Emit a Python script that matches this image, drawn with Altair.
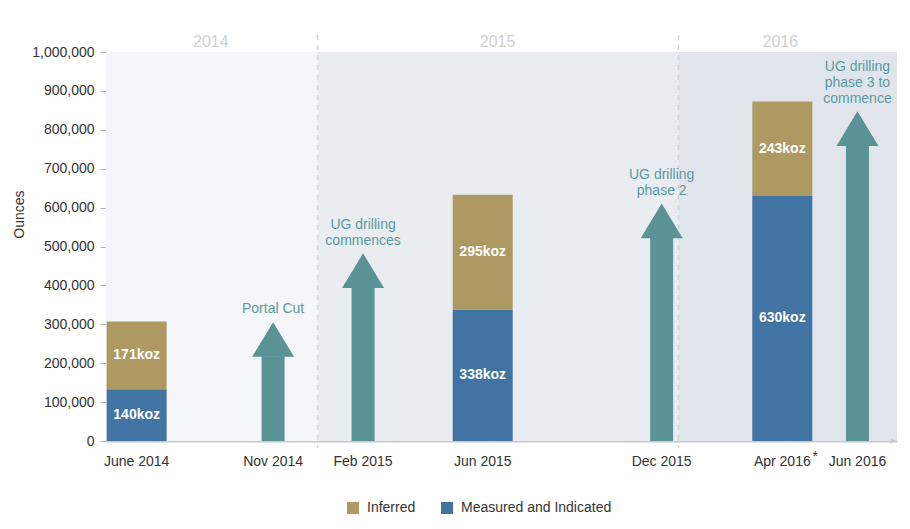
import altair as alt
import pandas as pd

# ---------------- data ----------------
bar_dates = ["2014-07-02", "2015-06-17", "2016-04-15"]
measured = [133000, 338000, 630000]
inferred = [174000, 295000, 243000]
measured_labels = ["140koz", "338koz", "630koz"]
inferred_labels = ["171koz", "295koz", "243koz"]

arrow_dates = ["2014-11-17", "2015-02-16", "2015-12-15", "2016-06-30"]
arrow_tips = [305000, 480000, 608000, 847000]
arrow_necks = [218000, 395000, 523000, 760000]
arrow_texts = ["Portal Cut", "UG drilling\ncommences", "UG drilling\nphase 2",
               "UG drilling\nphase 3 to\ncommence"]

tick_dates = ["2014-07-02", "2014-11-17", "2015-02-16", "2015-06-17",
              "2015-12-15", "2016-04-15", "2016-06-30"]
tick_labels = ["June 2014", "Nov 2014", "Feb 2015", "Jun 2015",
               "Dec 2015", "Apr 2016", "Jun 2016"]
footnote_date = ["2016-04-15"]

year_labels = ["2014", "2015", "2016"]
year_starts = ["2014-06-01", "2015-01-01", "2016-01-01"]
year_ends = ["2015-01-01", "2016-01-01", "2016-08-09"]
year_label_dates = ["2014-09-15", "2015-07-02", "2016-04-13"]
year_dividers = ["2015-01-01", "2016-01-01"]
axis_end_date = ["2016-08-05"]

y_ticks = [0, 100000, 200000, 300000, 400000, 500000, 600000, 700000, 800000, 900000, 1000000]

categories = ["Inferred", "Measured and Indicated"]
cat_colors = ["#ae9963", "#4173a3"]
region_colors = ["#f5f6f9", "#e9ecf1", "#e0e5ec"]
TEAL = "#5a9296"
TEAL_TEXT = "#5b9a9f"
FONT = "Liberation Sans"

# ---------------- tables ----------------
rows = []
for d, m, i, ml, il in zip(bar_dates, measured, inferred, measured_labels, inferred_labels):
    rows.append({"date": d, "category": "Measured and Indicated", "value": m, "label": ml, "order": 0})
    rows.append({"date": d, "category": "Inferred", "value": i, "label": il, "order": 1})
bars_df = pd.DataFrame(rows)

arrows_df = pd.DataFrame({"date": arrow_dates, "tip": arrow_tips, "neck": arrow_necks, "label": arrow_texts})
ticks_df = pd.DataFrame({"date": tick_dates, "label": tick_labels})
foot_df = pd.DataFrame({"date": footnote_date})
regions_df = pd.DataFrame({"start": year_starts, "end": year_ends, "year": year_labels, "color": region_colors})
year_df = pd.DataFrame({"date": year_label_dates, "year": year_labels})
div_df = pd.DataFrame({"date": year_dividers})
end_df = pd.DataFrame({"date": axis_end_date, "zero": [0]})

W, H = 791, 389
LINE_H = 16

x_scale = alt.Scale(domain=[alt.DateTime(year=2014, month=6, date=1, utc=True),
                            alt.DateTime(year=2016, month=8, date=9, utc=True)],
                    padding=0)
y_scale = alt.Scale(domain=[0, 1000000], nice=False, padding=0)

x_axis = alt.Axis(labels=False, ticks=False, grid=False, title=None,
                  domainColor="#c8c8c8", domainWidth=2)
y_axis = alt.Axis(values=y_ticks, labelExpr="format(datum.value, ',')", grid=False, title="Ounces",
                  labelFontSize=14, labelColor="#333333", labelPadding=6,
                  tickColor="#b5b5b5", tickSize=6, domainColor="#b5b5b5",
                  titleFontSize=14, titleFontWeight="normal", titleColor="#333333",
                  titleX=-80, titleY=162)


def X(f="date"):
    return alt.X(f"{f}:T", scale=x_scale, axis=x_axis)


def Y(f):
    return alt.Y(f"{f}:Q", scale=y_scale, axis=y_axis)


regions = alt.Chart(regions_df).mark_rect().encode(
    x=X("start"),
    x2="end:T",
    y=alt.value(0), y2=alt.value(H),
    color=alt.Color("color:N", scale=None),
)

dividers = alt.Chart(div_df).mark_rule(color="#d3d4d7", strokeWidth=1.5, strokeDash=[5, 5]).encode(
    x=X(), y=alt.value(-17), y2=alt.value(H + 7)
)

years = alt.Chart(year_df).mark_text(fontSize=16, color="#d0d0d2", baseline="middle").encode(
    x=X(), y=alt.value(-10), text="year:N"
)

bars = alt.Chart(bars_df).mark_bar(size=60).encode(
    x=X(),
    y=alt.Y("value:Q", stack="zero", scale=y_scale, axis=y_axis),
    color=alt.Color("category:N", scale=alt.Scale(domain=categories, range=cat_colors),
                    legend=alt.Legend(orient="none", legendX=240, legendY=449,
                                      direction="horizontal", title=None,
                                      symbolType="square", symbolSize=144,
                                      symbolStrokeWidth=0, labelFontSize=14,
                                      labelColor="#333333", columnPadding=24,
                                      labelOffset=7)),
    order=alt.Order("order:Q", sort="ascending"),
)

bar_text = alt.Chart(bars_df).transform_stack(
    stack="value", groupby=["date"], as_=["y0", "y1"],
    sort=[alt.SortField("order", "ascending")]
).transform_calculate(mid="(datum.y0 + datum.y1) / 2").mark_text(
    color="white", fontSize=14, fontWeight="bold", baseline="middle"
).encode(x=X(), y=Y("mid"), text="label:N")

shafts = alt.Chart(arrows_df).mark_bar(size=23, color=TEAL).encode(x=X(), y=Y("neck"))

heads = alt.Chart(arrows_df).mark_point(
    shape="M-1,0.03L1,0.03L0,-1.62Z", size=1764, filled=True, opacity=1,
    color=TEAL, strokeWidth=0
).encode(x=X(), y=Y("neck"))

# multi-line labels grow downward from their anchor: lift the anchor by the extra lines
arrow_text = alt.Chart(arrows_df).transform_calculate(
    nlines="split(datum.label, '\\n').length",
    ty=f"datum.tip + (datum.nlines - 1) * {LINE_H} * 1000000 / {H}",
).mark_text(
    color=TEAL_TEXT, fontSize=14, baseline="bottom", lineBreak="\n", lineHeight=LINE_H, dy=-6
).encode(x=X(), y=Y("ty"), text="label:N")

x_labels = alt.Chart(ticks_df).mark_text(fontSize=14, color="#333333", baseline="middle").encode(
    x=X(), y=alt.value(H + 21), text="label:N"
)

footnote = alt.Chart(foot_df).mark_text(text="*", fontSize=14, color="#333333",
                                        baseline="middle", dx=33, dy=-5).encode(
    x=X(), y=alt.value(H + 21)
)

axis_arrow = alt.Chart(end_df).mark_point(
    shape="triangle-right", size=30, filled=True, opacity=1, color="#c8c8c8", strokeWidth=0
).encode(x=X(), y=Y("zero"))

chart = alt.layer(
    regions, dividers, years, bars, bar_text, shafts, heads, arrow_text, x_labels, footnote, axis_arrow
).properties(
    width=W, height=H, autosize="none",
    padding={"left": 98, "top": 44, "right": 5, "bottom": 80},
).configure(font=FONT).configure_view(stroke=None)

chart.save("out.html", embed_options={"renderer": "svg", "actions": False})
